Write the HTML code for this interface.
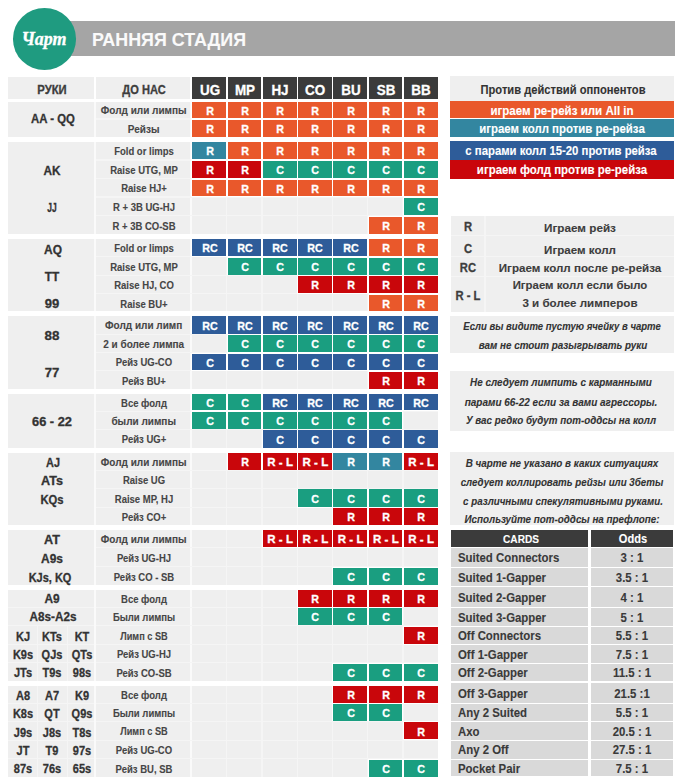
<!DOCTYPE html>
<html><head><meta charset="utf-8"><style>
html,body{margin:0;padding:0;background:#fff;}
body{width:680px;height:782px;position:relative;overflow:hidden;font-family:"Liberation Sans",sans-serif;}
.r{position:absolute;}
.t{position:absolute;height:20px;line-height:20px;font-weight:bold;white-space:nowrap;-webkit-text-stroke:0.3px currentColor;}
.ns{-webkit-text-stroke:0.1px currentColor;}
.circ{position:absolute;left:12.5px;top:8.4px;width:63.6px;height:61.4px;border-radius:50%;background:#1f9b80;}
</style></head><body>
<div class="r" style="left:44.00px;top:21.20px;width:630.60px;height:34.40px;background:#a5a5a5;"></div>
<div class="t ns" style="top:30.30px;font-size:18.5px;color:#fafafa;left:168.60px;transform:translateX(-50%) scaleX(0.966);">РАННЯЯ СТАДИЯ</div>
<div class="circ"></div>
<div class="t" style="left:44px;top:28.5px;height:20px;line-height:20px;font-family:'Liberation Serif',serif;font-style:italic;font-weight:bold;font-size:18px;color:#fff;transform:translateX(-50%)">Чарт</div>
<div class="r" style="left:8.00px;top:76.50px;width:86.00px;height:22.80px;background:#efefef;"></div>
<div class="r" style="left:96.00px;top:76.50px;width:93.50px;height:22.80px;background:#efefef;"></div>
<div class="t " style="top:80.10px;font-size:12px;color:#3d3d3d;left:51.88px;transform:translateX(-50%) scaleX(0.939);">РУКИ</div>
<div class="t " style="top:80.10px;font-size:12px;color:#3d3d3d;left:143.65px;transform:translateX(-50%) scaleX(0.923);">ДО НАС</div>
<div class="r" style="left:192.30px;top:76.50px;width:33.90px;height:22.80px;background:#3b3b3b;"></div>
<div class="t " style="top:80.30px;font-size:14px;color:#fff;left:209.55px;transform:translateX(-50%) scaleX(0.960);">UG</div>
<div class="r" style="left:227.55px;top:76.50px;width:33.90px;height:22.80px;background:#3b3b3b;"></div>
<div class="t " style="top:80.30px;font-size:14px;color:#fff;left:244.80px;transform:translateX(-50%) scaleX(0.960);">MP</div>
<div class="r" style="left:262.80px;top:76.50px;width:33.90px;height:22.80px;background:#3b3b3b;"></div>
<div class="t " style="top:80.30px;font-size:14px;color:#fff;left:280.05px;transform:translateX(-50%) scaleX(0.960);">HJ</div>
<div class="r" style="left:298.05px;top:76.50px;width:33.90px;height:22.80px;background:#3b3b3b;"></div>
<div class="t " style="top:80.30px;font-size:14px;color:#fff;left:315.30px;transform:translateX(-50%) scaleX(0.960);">CO</div>
<div class="r" style="left:333.30px;top:76.50px;width:33.90px;height:22.80px;background:#3b3b3b;"></div>
<div class="t " style="top:80.30px;font-size:14px;color:#fff;left:350.55px;transform:translateX(-50%) scaleX(0.960);">BU</div>
<div class="r" style="left:368.55px;top:76.50px;width:33.90px;height:22.80px;background:#3b3b3b;"></div>
<div class="t " style="top:80.30px;font-size:14px;color:#fff;left:385.80px;transform:translateX(-50%) scaleX(0.960);">SB</div>
<div class="r" style="left:403.80px;top:76.50px;width:33.90px;height:22.80px;background:#3b3b3b;"></div>
<div class="t " style="top:80.30px;font-size:14px;color:#fff;left:421.05px;transform:translateX(-50%) scaleX(0.960);">BB</div>
<div class="r" style="left:8.00px;top:101.50px;width:429.60px;height:35.20px;background:#efefef;"></div>
<div class="r" style="left:94.00px;top:101.50px;width:2.00px;height:35.20px;background:#fafafa;"></div>
<div class="r" style="left:189.60px;top:101.50px;width:2.50px;height:35.20px;background:#fafafa;"></div>
<div class="r" style="left:226.20px;top:101.50px;width:1.30px;height:35.20px;background:#f5f5f5;"></div>
<div class="r" style="left:261.45px;top:101.50px;width:1.30px;height:35.20px;background:#f5f5f5;"></div>
<div class="r" style="left:296.70px;top:101.50px;width:1.30px;height:35.20px;background:#f5f5f5;"></div>
<div class="r" style="left:331.95px;top:101.50px;width:1.30px;height:35.20px;background:#f5f5f5;"></div>
<div class="r" style="left:367.20px;top:101.50px;width:1.30px;height:35.20px;background:#f5f5f5;"></div>
<div class="r" style="left:402.45px;top:101.50px;width:1.30px;height:35.20px;background:#f5f5f5;"></div>
<div class="r" style="left:96.00px;top:118.40px;width:341.60px;height:1.20px;background:#f5f5f5;"></div>
<div class="t ns" style="top:101.15px;font-size:10px;color:#464646;left:143.70px;transform:translateX(-50%) scaleX(1.000);">Фолд или лимпы</div>
<div class="r" style="left:191.40px;top:100.60px;width:35.70px;height:18.30px;background:#fff;"></div>
<div class="r" style="left:226.65px;top:100.60px;width:35.70px;height:18.30px;background:#fff;"></div>
<div class="r" style="left:261.90px;top:100.60px;width:35.70px;height:18.30px;background:#fff;"></div>
<div class="r" style="left:297.15px;top:100.60px;width:35.70px;height:18.30px;background:#fff;"></div>
<div class="r" style="left:332.40px;top:100.60px;width:35.70px;height:18.30px;background:#fff;"></div>
<div class="r" style="left:367.65px;top:100.60px;width:35.70px;height:18.30px;background:#fff;"></div>
<div class="r" style="left:402.90px;top:100.60px;width:35.70px;height:18.30px;background:#fff;"></div>
<div class="t ns" style="top:119.75px;font-size:10px;color:#464646;left:143.70px;transform:translateX(-50%) scaleX(1.000);">Рейзы</div>
<div class="r" style="left:191.40px;top:119.10px;width:35.70px;height:18.50px;background:#fff;"></div>
<div class="r" style="left:226.65px;top:119.10px;width:35.70px;height:18.50px;background:#fff;"></div>
<div class="r" style="left:261.90px;top:119.10px;width:35.70px;height:18.50px;background:#fff;"></div>
<div class="r" style="left:297.15px;top:119.10px;width:35.70px;height:18.50px;background:#fff;"></div>
<div class="r" style="left:332.40px;top:119.10px;width:35.70px;height:18.50px;background:#fff;"></div>
<div class="r" style="left:367.65px;top:119.10px;width:35.70px;height:18.50px;background:#fff;"></div>
<div class="r" style="left:402.90px;top:119.10px;width:35.70px;height:18.50px;background:#fff;"></div>
<div class="r" style="left:192.30px;top:101.50px;width:33.90px;height:16.50px;background:#e9582b;"></div>
<div class="t " style="top:100.65px;font-size:11.5px;color:#fff;left:209.65px;transform:translateX(-50%) scaleX(0.930);">R</div>
<div class="r" style="left:227.55px;top:101.50px;width:33.90px;height:16.50px;background:#e9582b;"></div>
<div class="t " style="top:100.65px;font-size:11.5px;color:#fff;left:244.90px;transform:translateX(-50%) scaleX(0.930);">R</div>
<div class="r" style="left:262.80px;top:101.50px;width:33.90px;height:16.50px;background:#e9582b;"></div>
<div class="t " style="top:100.65px;font-size:11.5px;color:#fff;left:280.15px;transform:translateX(-50%) scaleX(0.930);">R</div>
<div class="r" style="left:298.05px;top:101.50px;width:33.90px;height:16.50px;background:#e9582b;"></div>
<div class="t " style="top:100.65px;font-size:11.5px;color:#fff;left:315.40px;transform:translateX(-50%) scaleX(0.930);">R</div>
<div class="r" style="left:333.30px;top:101.50px;width:33.90px;height:16.50px;background:#e9582b;"></div>
<div class="t " style="top:100.65px;font-size:11.5px;color:#fff;left:350.65px;transform:translateX(-50%) scaleX(0.930);">R</div>
<div class="r" style="left:368.55px;top:101.50px;width:33.90px;height:16.50px;background:#e9582b;"></div>
<div class="t " style="top:100.65px;font-size:11.5px;color:#fff;left:385.90px;transform:translateX(-50%) scaleX(0.930);">R</div>
<div class="r" style="left:403.80px;top:101.50px;width:33.90px;height:16.50px;background:#e9582b;"></div>
<div class="t " style="top:100.65px;font-size:11.5px;color:#fff;left:421.15px;transform:translateX(-50%) scaleX(0.930);">R</div>
<div class="r" style="left:192.30px;top:120.00px;width:33.90px;height:16.70px;background:#e9582b;"></div>
<div class="t " style="top:119.25px;font-size:11.5px;color:#fff;left:209.65px;transform:translateX(-50%) scaleX(0.930);">R</div>
<div class="r" style="left:227.55px;top:120.00px;width:33.90px;height:16.70px;background:#e9582b;"></div>
<div class="t " style="top:119.25px;font-size:11.5px;color:#fff;left:244.90px;transform:translateX(-50%) scaleX(0.930);">R</div>
<div class="r" style="left:262.80px;top:120.00px;width:33.90px;height:16.70px;background:#e9582b;"></div>
<div class="t " style="top:119.25px;font-size:11.5px;color:#fff;left:280.15px;transform:translateX(-50%) scaleX(0.930);">R</div>
<div class="r" style="left:298.05px;top:120.00px;width:33.90px;height:16.70px;background:#e9582b;"></div>
<div class="t " style="top:119.25px;font-size:11.5px;color:#fff;left:315.40px;transform:translateX(-50%) scaleX(0.930);">R</div>
<div class="r" style="left:333.30px;top:120.00px;width:33.90px;height:16.70px;background:#e9582b;"></div>
<div class="t " style="top:119.25px;font-size:11.5px;color:#fff;left:350.65px;transform:translateX(-50%) scaleX(0.930);">R</div>
<div class="r" style="left:368.55px;top:120.00px;width:33.90px;height:16.70px;background:#e9582b;"></div>
<div class="t " style="top:119.25px;font-size:11.5px;color:#fff;left:385.90px;transform:translateX(-50%) scaleX(0.930);">R</div>
<div class="r" style="left:403.80px;top:120.00px;width:33.90px;height:16.70px;background:#e9582b;"></div>
<div class="t " style="top:119.25px;font-size:11.5px;color:#fff;left:421.15px;transform:translateX(-50%) scaleX(0.930);">R</div>
<div class="r" style="left:8.00px;top:141.80px;width:429.60px;height:92.20px;background:#efefef;"></div>
<div class="r" style="left:94.00px;top:141.80px;width:2.00px;height:92.20px;background:#fafafa;"></div>
<div class="r" style="left:189.60px;top:141.80px;width:2.50px;height:92.20px;background:#fafafa;"></div>
<div class="r" style="left:226.20px;top:141.80px;width:1.30px;height:92.20px;background:#f5f5f5;"></div>
<div class="r" style="left:261.45px;top:141.80px;width:1.30px;height:92.20px;background:#f5f5f5;"></div>
<div class="r" style="left:296.70px;top:141.80px;width:1.30px;height:92.20px;background:#f5f5f5;"></div>
<div class="r" style="left:331.95px;top:141.80px;width:1.30px;height:92.20px;background:#f5f5f5;"></div>
<div class="r" style="left:367.20px;top:141.80px;width:1.30px;height:92.20px;background:#f5f5f5;"></div>
<div class="r" style="left:402.45px;top:141.80px;width:1.30px;height:92.20px;background:#f5f5f5;"></div>
<div class="r" style="left:96.00px;top:159.35px;width:341.60px;height:1.20px;background:#f5f5f5;"></div>
<div class="r" style="left:96.00px;top:178.00px;width:341.60px;height:1.20px;background:#f5f5f5;"></div>
<div class="r" style="left:96.00px;top:196.40px;width:341.60px;height:1.20px;background:#f5f5f5;"></div>
<div class="r" style="left:96.00px;top:215.10px;width:341.60px;height:1.20px;background:#f5f5f5;"></div>
<div class="t ns" style="top:141.80px;font-size:10px;color:#464646;left:143.70px;transform:translateX(-50%) scaleX(0.950);">Fold or limps</div>
<div class="r" style="left:191.40px;top:140.90px;width:35.70px;height:19.00px;background:#fff;"></div>
<div class="r" style="left:226.65px;top:140.90px;width:35.70px;height:19.00px;background:#fff;"></div>
<div class="r" style="left:261.90px;top:140.90px;width:35.70px;height:19.00px;background:#fff;"></div>
<div class="r" style="left:297.15px;top:140.90px;width:35.70px;height:19.00px;background:#fff;"></div>
<div class="r" style="left:332.40px;top:140.90px;width:35.70px;height:19.00px;background:#fff;"></div>
<div class="r" style="left:367.65px;top:140.90px;width:35.70px;height:19.00px;background:#fff;"></div>
<div class="r" style="left:402.90px;top:140.90px;width:35.70px;height:19.00px;background:#fff;"></div>
<div class="t ns" style="top:160.65px;font-size:10px;color:#464646;left:143.70px;transform:translateX(-50%) scaleX(0.950);">Raise UTG, MP</div>
<div class="r" style="left:191.40px;top:160.00px;width:35.70px;height:18.50px;background:#fff;"></div>
<div class="r" style="left:226.65px;top:160.00px;width:35.70px;height:18.50px;background:#fff;"></div>
<div class="r" style="left:261.90px;top:160.00px;width:35.70px;height:18.50px;background:#fff;"></div>
<div class="r" style="left:297.15px;top:160.00px;width:35.70px;height:18.50px;background:#fff;"></div>
<div class="r" style="left:332.40px;top:160.00px;width:35.70px;height:18.50px;background:#fff;"></div>
<div class="r" style="left:367.65px;top:160.00px;width:35.70px;height:18.50px;background:#fff;"></div>
<div class="r" style="left:402.90px;top:160.00px;width:35.70px;height:18.50px;background:#fff;"></div>
<div class="t ns" style="top:179.25px;font-size:10px;color:#464646;left:143.70px;transform:translateX(-50%) scaleX(0.950);">Raise HJ+</div>
<div class="r" style="left:191.40px;top:178.70px;width:35.70px;height:18.30px;background:#fff;"></div>
<div class="r" style="left:226.65px;top:178.70px;width:35.70px;height:18.30px;background:#fff;"></div>
<div class="r" style="left:261.90px;top:178.70px;width:35.70px;height:18.30px;background:#fff;"></div>
<div class="r" style="left:297.15px;top:178.70px;width:35.70px;height:18.30px;background:#fff;"></div>
<div class="r" style="left:332.40px;top:178.70px;width:35.70px;height:18.30px;background:#fff;"></div>
<div class="r" style="left:367.65px;top:178.70px;width:35.70px;height:18.30px;background:#fff;"></div>
<div class="r" style="left:402.90px;top:178.70px;width:35.70px;height:18.30px;background:#fff;"></div>
<div class="t ns" style="top:197.80px;font-size:10px;color:#464646;left:143.70px;transform:translateX(-50%) scaleX(0.950);">R + 3B UG-HJ</div>
<div class="r" style="left:402.90px;top:197.00px;width:35.70px;height:18.80px;background:#fff;"></div>
<div class="t ns" style="top:216.65px;font-size:10px;color:#464646;left:143.70px;transform:translateX(-50%) scaleX(0.950);">R + 3B CO-SB</div>
<div class="r" style="left:367.65px;top:215.60px;width:35.70px;height:19.30px;background:#fff;"></div>
<div class="r" style="left:402.90px;top:215.60px;width:35.70px;height:19.30px;background:#fff;"></div>
<div class="r" style="left:192.30px;top:141.80px;width:33.90px;height:17.20px;background:#3386a0;"></div>
<div class="t " style="top:141.30px;font-size:11.5px;color:#fff;left:209.65px;transform:translateX(-50%) scaleX(0.930);">R</div>
<div class="r" style="left:227.55px;top:141.80px;width:33.90px;height:17.20px;background:#e9582b;"></div>
<div class="t " style="top:141.30px;font-size:11.5px;color:#fff;left:244.90px;transform:translateX(-50%) scaleX(0.930);">R</div>
<div class="r" style="left:262.80px;top:141.80px;width:33.90px;height:17.20px;background:#e9582b;"></div>
<div class="t " style="top:141.30px;font-size:11.5px;color:#fff;left:280.15px;transform:translateX(-50%) scaleX(0.930);">R</div>
<div class="r" style="left:298.05px;top:141.80px;width:33.90px;height:17.20px;background:#e9582b;"></div>
<div class="t " style="top:141.30px;font-size:11.5px;color:#fff;left:315.40px;transform:translateX(-50%) scaleX(0.930);">R</div>
<div class="r" style="left:333.30px;top:141.80px;width:33.90px;height:17.20px;background:#e9582b;"></div>
<div class="t " style="top:141.30px;font-size:11.5px;color:#fff;left:350.65px;transform:translateX(-50%) scaleX(0.930);">R</div>
<div class="r" style="left:368.55px;top:141.80px;width:33.90px;height:17.20px;background:#e9582b;"></div>
<div class="t " style="top:141.30px;font-size:11.5px;color:#fff;left:385.90px;transform:translateX(-50%) scaleX(0.930);">R</div>
<div class="r" style="left:403.80px;top:141.80px;width:33.90px;height:17.20px;background:#e9582b;"></div>
<div class="t " style="top:141.30px;font-size:11.5px;color:#fff;left:421.15px;transform:translateX(-50%) scaleX(0.930);">R</div>
<div class="r" style="left:192.30px;top:160.90px;width:33.90px;height:16.70px;background:#c9060b;"></div>
<div class="t " style="top:160.15px;font-size:11.5px;color:#fff;left:209.65px;transform:translateX(-50%) scaleX(0.930);">R</div>
<div class="r" style="left:227.55px;top:160.90px;width:33.90px;height:16.70px;background:#c9060b;"></div>
<div class="t " style="top:160.15px;font-size:11.5px;color:#fff;left:244.90px;transform:translateX(-50%) scaleX(0.930);">R</div>
<div class="r" style="left:262.80px;top:160.90px;width:33.90px;height:16.70px;background:#1a9e80;"></div>
<div class="t " style="top:160.15px;font-size:11.5px;color:#fff;left:280.15px;transform:translateX(-50%) scaleX(0.930);">C</div>
<div class="r" style="left:298.05px;top:160.90px;width:33.90px;height:16.70px;background:#1a9e80;"></div>
<div class="t " style="top:160.15px;font-size:11.5px;color:#fff;left:315.40px;transform:translateX(-50%) scaleX(0.930);">C</div>
<div class="r" style="left:333.30px;top:160.90px;width:33.90px;height:16.70px;background:#1a9e80;"></div>
<div class="t " style="top:160.15px;font-size:11.5px;color:#fff;left:350.65px;transform:translateX(-50%) scaleX(0.930);">C</div>
<div class="r" style="left:368.55px;top:160.90px;width:33.90px;height:16.70px;background:#1a9e80;"></div>
<div class="t " style="top:160.15px;font-size:11.5px;color:#fff;left:385.90px;transform:translateX(-50%) scaleX(0.930);">C</div>
<div class="r" style="left:403.80px;top:160.90px;width:33.90px;height:16.70px;background:#1a9e80;"></div>
<div class="t " style="top:160.15px;font-size:11.5px;color:#fff;left:421.15px;transform:translateX(-50%) scaleX(0.930);">C</div>
<div class="r" style="left:192.30px;top:179.60px;width:33.90px;height:16.50px;background:#e9582b;"></div>
<div class="t " style="top:178.75px;font-size:11.5px;color:#fff;left:209.65px;transform:translateX(-50%) scaleX(0.930);">R</div>
<div class="r" style="left:227.55px;top:179.60px;width:33.90px;height:16.50px;background:#e9582b;"></div>
<div class="t " style="top:178.75px;font-size:11.5px;color:#fff;left:244.90px;transform:translateX(-50%) scaleX(0.930);">R</div>
<div class="r" style="left:262.80px;top:179.60px;width:33.90px;height:16.50px;background:#e9582b;"></div>
<div class="t " style="top:178.75px;font-size:11.5px;color:#fff;left:280.15px;transform:translateX(-50%) scaleX(0.930);">R</div>
<div class="r" style="left:298.05px;top:179.60px;width:33.90px;height:16.50px;background:#e9582b;"></div>
<div class="t " style="top:178.75px;font-size:11.5px;color:#fff;left:315.40px;transform:translateX(-50%) scaleX(0.930);">R</div>
<div class="r" style="left:333.30px;top:179.60px;width:33.90px;height:16.50px;background:#e9582b;"></div>
<div class="t " style="top:178.75px;font-size:11.5px;color:#fff;left:350.65px;transform:translateX(-50%) scaleX(0.930);">R</div>
<div class="r" style="left:368.55px;top:179.60px;width:33.90px;height:16.50px;background:#e9582b;"></div>
<div class="t " style="top:178.75px;font-size:11.5px;color:#fff;left:385.90px;transform:translateX(-50%) scaleX(0.930);">R</div>
<div class="r" style="left:403.80px;top:179.60px;width:33.90px;height:16.50px;background:#e9582b;"></div>
<div class="t " style="top:178.75px;font-size:11.5px;color:#fff;left:421.15px;transform:translateX(-50%) scaleX(0.930);">R</div>
<div class="r" style="left:403.80px;top:197.90px;width:33.90px;height:17.00px;background:#1a9e80;"></div>
<div class="t " style="top:197.30px;font-size:11.5px;color:#fff;left:421.15px;transform:translateX(-50%) scaleX(0.930);">C</div>
<div class="r" style="left:368.55px;top:216.50px;width:33.90px;height:17.50px;background:#e9582b;"></div>
<div class="t " style="top:216.15px;font-size:11.5px;color:#fff;left:385.90px;transform:translateX(-50%) scaleX(0.930);">R</div>
<div class="r" style="left:403.80px;top:216.50px;width:33.90px;height:17.50px;background:#e9582b;"></div>
<div class="t " style="top:216.15px;font-size:11.5px;color:#fff;left:421.15px;transform:translateX(-50%) scaleX(0.930);">R</div>
<div class="r" style="left:8.00px;top:239.00px;width:429.60px;height:72.40px;background:#efefef;"></div>
<div class="r" style="left:94.00px;top:239.00px;width:2.00px;height:72.40px;background:#fafafa;"></div>
<div class="r" style="left:189.60px;top:239.00px;width:2.50px;height:72.40px;background:#fafafa;"></div>
<div class="r" style="left:226.20px;top:239.00px;width:1.30px;height:72.40px;background:#f5f5f5;"></div>
<div class="r" style="left:261.45px;top:239.00px;width:1.30px;height:72.40px;background:#f5f5f5;"></div>
<div class="r" style="left:296.70px;top:239.00px;width:1.30px;height:72.40px;background:#f5f5f5;"></div>
<div class="r" style="left:331.95px;top:239.00px;width:1.30px;height:72.40px;background:#f5f5f5;"></div>
<div class="r" style="left:367.20px;top:239.00px;width:1.30px;height:72.40px;background:#f5f5f5;"></div>
<div class="r" style="left:402.45px;top:239.00px;width:1.30px;height:72.40px;background:#f5f5f5;"></div>
<div class="r" style="left:96.00px;top:256.20px;width:341.60px;height:1.20px;background:#f5f5f5;"></div>
<div class="r" style="left:96.00px;top:274.75px;width:341.60px;height:1.20px;background:#f5f5f5;"></div>
<div class="r" style="left:96.00px;top:293.25px;width:341.60px;height:1.20px;background:#f5f5f5;"></div>
<div class="t ns" style="top:238.90px;font-size:10px;color:#464646;left:143.70px;transform:translateX(-50%) scaleX(0.950);">Fold or limps</div>
<div class="r" style="left:191.40px;top:238.10px;width:35.70px;height:18.80px;background:#fff;"></div>
<div class="r" style="left:226.65px;top:238.10px;width:35.70px;height:18.80px;background:#fff;"></div>
<div class="r" style="left:261.90px;top:238.10px;width:35.70px;height:18.80px;background:#fff;"></div>
<div class="r" style="left:297.15px;top:238.10px;width:35.70px;height:18.80px;background:#fff;"></div>
<div class="r" style="left:332.40px;top:238.10px;width:35.70px;height:18.80px;background:#fff;"></div>
<div class="r" style="left:367.65px;top:238.10px;width:35.70px;height:18.80px;background:#fff;"></div>
<div class="r" style="left:402.90px;top:238.10px;width:35.70px;height:18.80px;background:#fff;"></div>
<div class="t ns" style="top:257.50px;font-size:10px;color:#464646;left:143.70px;transform:translateX(-50%) scaleX(0.950);">Raise UTG, MP</div>
<div class="r" style="left:226.65px;top:256.70px;width:35.70px;height:18.80px;background:#fff;"></div>
<div class="r" style="left:261.90px;top:256.70px;width:35.70px;height:18.80px;background:#fff;"></div>
<div class="r" style="left:297.15px;top:256.70px;width:35.70px;height:18.80px;background:#fff;"></div>
<div class="r" style="left:332.40px;top:256.70px;width:35.70px;height:18.80px;background:#fff;"></div>
<div class="r" style="left:367.65px;top:256.70px;width:35.70px;height:18.80px;background:#fff;"></div>
<div class="r" style="left:402.90px;top:256.70px;width:35.70px;height:18.80px;background:#fff;"></div>
<div class="t ns" style="top:275.85px;font-size:10px;color:#464646;left:143.70px;transform:translateX(-50%) scaleX(0.950);">Raise HJ, CO</div>
<div class="r" style="left:297.15px;top:275.20px;width:35.70px;height:18.50px;background:#fff;"></div>
<div class="r" style="left:332.40px;top:275.20px;width:35.70px;height:18.50px;background:#fff;"></div>
<div class="r" style="left:367.65px;top:275.20px;width:35.70px;height:18.50px;background:#fff;"></div>
<div class="r" style="left:402.90px;top:275.20px;width:35.70px;height:18.50px;background:#fff;"></div>
<div class="t ns" style="top:294.55px;font-size:10px;color:#464646;left:143.70px;transform:translateX(-50%) scaleX(0.950);">Raise BU+</div>
<div class="r" style="left:367.65px;top:294.00px;width:35.70px;height:18.30px;background:#fff;"></div>
<div class="r" style="left:402.90px;top:294.00px;width:35.70px;height:18.30px;background:#fff;"></div>
<div class="r" style="left:192.30px;top:239.00px;width:33.90px;height:17.00px;background:#2e5c99;"></div>
<div class="t " style="top:238.40px;font-size:11.5px;color:#fff;left:209.65px;transform:translateX(-50%) scaleX(0.930);">RC</div>
<div class="r" style="left:227.55px;top:239.00px;width:33.90px;height:17.00px;background:#2e5c99;"></div>
<div class="t " style="top:238.40px;font-size:11.5px;color:#fff;left:244.90px;transform:translateX(-50%) scaleX(0.930);">RC</div>
<div class="r" style="left:262.80px;top:239.00px;width:33.90px;height:17.00px;background:#2e5c99;"></div>
<div class="t " style="top:238.40px;font-size:11.5px;color:#fff;left:280.15px;transform:translateX(-50%) scaleX(0.930);">RC</div>
<div class="r" style="left:298.05px;top:239.00px;width:33.90px;height:17.00px;background:#2e5c99;"></div>
<div class="t " style="top:238.40px;font-size:11.5px;color:#fff;left:315.40px;transform:translateX(-50%) scaleX(0.930);">RC</div>
<div class="r" style="left:333.30px;top:239.00px;width:33.90px;height:17.00px;background:#2e5c99;"></div>
<div class="t " style="top:238.40px;font-size:11.5px;color:#fff;left:350.65px;transform:translateX(-50%) scaleX(0.930);">RC</div>
<div class="r" style="left:368.55px;top:239.00px;width:33.90px;height:17.00px;background:#e9582b;"></div>
<div class="t " style="top:238.40px;font-size:11.5px;color:#fff;left:385.90px;transform:translateX(-50%) scaleX(0.930);">R</div>
<div class="r" style="left:403.80px;top:239.00px;width:33.90px;height:17.00px;background:#e9582b;"></div>
<div class="t " style="top:238.40px;font-size:11.5px;color:#fff;left:421.15px;transform:translateX(-50%) scaleX(0.930);">R</div>
<div class="r" style="left:227.55px;top:257.60px;width:33.90px;height:17.00px;background:#1a9e80;"></div>
<div class="t " style="top:257.00px;font-size:11.5px;color:#fff;left:244.90px;transform:translateX(-50%) scaleX(0.930);">C</div>
<div class="r" style="left:262.80px;top:257.60px;width:33.90px;height:17.00px;background:#1a9e80;"></div>
<div class="t " style="top:257.00px;font-size:11.5px;color:#fff;left:280.15px;transform:translateX(-50%) scaleX(0.930);">C</div>
<div class="r" style="left:298.05px;top:257.60px;width:33.90px;height:17.00px;background:#1a9e80;"></div>
<div class="t " style="top:257.00px;font-size:11.5px;color:#fff;left:315.40px;transform:translateX(-50%) scaleX(0.930);">C</div>
<div class="r" style="left:333.30px;top:257.60px;width:33.90px;height:17.00px;background:#1a9e80;"></div>
<div class="t " style="top:257.00px;font-size:11.5px;color:#fff;left:350.65px;transform:translateX(-50%) scaleX(0.930);">C</div>
<div class="r" style="left:368.55px;top:257.60px;width:33.90px;height:17.00px;background:#1a9e80;"></div>
<div class="t " style="top:257.00px;font-size:11.5px;color:#fff;left:385.90px;transform:translateX(-50%) scaleX(0.930);">C</div>
<div class="r" style="left:403.80px;top:257.60px;width:33.90px;height:17.00px;background:#1a9e80;"></div>
<div class="t " style="top:257.00px;font-size:11.5px;color:#fff;left:421.15px;transform:translateX(-50%) scaleX(0.930);">C</div>
<div class="r" style="left:298.05px;top:276.10px;width:33.90px;height:16.70px;background:#c9060b;"></div>
<div class="t " style="top:275.35px;font-size:11.5px;color:#fff;left:315.40px;transform:translateX(-50%) scaleX(0.930);">R</div>
<div class="r" style="left:333.30px;top:276.10px;width:33.90px;height:16.70px;background:#c9060b;"></div>
<div class="t " style="top:275.35px;font-size:11.5px;color:#fff;left:350.65px;transform:translateX(-50%) scaleX(0.930);">R</div>
<div class="r" style="left:368.55px;top:276.10px;width:33.90px;height:16.70px;background:#c9060b;"></div>
<div class="t " style="top:275.35px;font-size:11.5px;color:#fff;left:385.90px;transform:translateX(-50%) scaleX(0.930);">R</div>
<div class="r" style="left:403.80px;top:276.10px;width:33.90px;height:16.70px;background:#c9060b;"></div>
<div class="t " style="top:275.35px;font-size:11.5px;color:#fff;left:421.15px;transform:translateX(-50%) scaleX(0.930);">R</div>
<div class="r" style="left:368.55px;top:294.90px;width:33.90px;height:16.50px;background:#e9582b;"></div>
<div class="t " style="top:294.05px;font-size:11.5px;color:#fff;left:385.90px;transform:translateX(-50%) scaleX(0.930);">R</div>
<div class="r" style="left:403.80px;top:294.90px;width:33.90px;height:16.50px;background:#e9582b;"></div>
<div class="t " style="top:294.05px;font-size:11.5px;color:#fff;left:421.15px;transform:translateX(-50%) scaleX(0.930);">R</div>
<div class="r" style="left:8.00px;top:316.25px;width:429.60px;height:72.55px;background:#efefef;"></div>
<div class="r" style="left:94.00px;top:316.25px;width:2.00px;height:72.55px;background:#fafafa;"></div>
<div class="r" style="left:189.60px;top:316.25px;width:2.50px;height:72.55px;background:#fafafa;"></div>
<div class="r" style="left:226.20px;top:316.25px;width:1.30px;height:72.55px;background:#f5f5f5;"></div>
<div class="r" style="left:261.45px;top:316.25px;width:1.30px;height:72.55px;background:#f5f5f5;"></div>
<div class="r" style="left:296.70px;top:316.25px;width:1.30px;height:72.55px;background:#f5f5f5;"></div>
<div class="r" style="left:331.95px;top:316.25px;width:1.30px;height:72.55px;background:#f5f5f5;"></div>
<div class="r" style="left:367.20px;top:316.25px;width:1.30px;height:72.55px;background:#f5f5f5;"></div>
<div class="r" style="left:402.45px;top:316.25px;width:1.30px;height:72.55px;background:#f5f5f5;"></div>
<div class="r" style="left:96.00px;top:333.65px;width:341.60px;height:1.20px;background:#f5f5f5;"></div>
<div class="r" style="left:96.00px;top:352.15px;width:341.60px;height:1.20px;background:#f5f5f5;"></div>
<div class="r" style="left:96.00px;top:370.30px;width:341.60px;height:1.20px;background:#f5f5f5;"></div>
<div class="t ns" style="top:316.27px;font-size:10px;color:#464646;left:143.70px;transform:translateX(-50%) scaleX(1.000);">Фолд или лимп</div>
<div class="r" style="left:191.40px;top:315.35px;width:35.70px;height:19.05px;background:#fff;"></div>
<div class="r" style="left:226.65px;top:315.35px;width:35.70px;height:19.05px;background:#fff;"></div>
<div class="r" style="left:261.90px;top:315.35px;width:35.70px;height:19.05px;background:#fff;"></div>
<div class="r" style="left:297.15px;top:315.35px;width:35.70px;height:19.05px;background:#fff;"></div>
<div class="r" style="left:332.40px;top:315.35px;width:35.70px;height:19.05px;background:#fff;"></div>
<div class="r" style="left:367.65px;top:315.35px;width:35.70px;height:19.05px;background:#fff;"></div>
<div class="r" style="left:402.90px;top:315.35px;width:35.70px;height:19.05px;background:#fff;"></div>
<div class="t ns" style="top:334.90px;font-size:10px;color:#464646;left:143.70px;transform:translateX(-50%) scaleX(1.000);">2 и более лимпа</div>
<div class="r" style="left:226.65px;top:334.10px;width:35.70px;height:18.80px;background:#fff;"></div>
<div class="r" style="left:261.90px;top:334.10px;width:35.70px;height:18.80px;background:#fff;"></div>
<div class="r" style="left:297.15px;top:334.10px;width:35.70px;height:18.80px;background:#fff;"></div>
<div class="r" style="left:332.40px;top:334.10px;width:35.70px;height:18.80px;background:#fff;"></div>
<div class="r" style="left:367.65px;top:334.10px;width:35.70px;height:18.80px;background:#fff;"></div>
<div class="r" style="left:402.90px;top:334.10px;width:35.70px;height:18.80px;background:#fff;"></div>
<div class="t ns" style="top:353.15px;font-size:10px;color:#464646;left:143.70px;transform:translateX(-50%) scaleX(0.950);">Рейз UG-CO</div>
<div class="r" style="left:191.40px;top:352.60px;width:35.70px;height:18.30px;background:#fff;"></div>
<div class="r" style="left:226.65px;top:352.60px;width:35.70px;height:18.30px;background:#fff;"></div>
<div class="r" style="left:261.90px;top:352.60px;width:35.70px;height:18.30px;background:#fff;"></div>
<div class="r" style="left:297.15px;top:352.60px;width:35.70px;height:18.30px;background:#fff;"></div>
<div class="r" style="left:332.40px;top:352.60px;width:35.70px;height:18.30px;background:#fff;"></div>
<div class="r" style="left:367.65px;top:352.60px;width:35.70px;height:18.30px;background:#fff;"></div>
<div class="r" style="left:402.90px;top:352.60px;width:35.70px;height:18.30px;background:#fff;"></div>
<div class="t ns" style="top:371.70px;font-size:10px;color:#464646;left:143.70px;transform:translateX(-50%) scaleX(0.950);">Рейз BU+</div>
<div class="r" style="left:367.65px;top:370.90px;width:35.70px;height:18.80px;background:#fff;"></div>
<div class="r" style="left:402.90px;top:370.90px;width:35.70px;height:18.80px;background:#fff;"></div>
<div class="r" style="left:192.30px;top:316.25px;width:33.90px;height:17.25px;background:#2e5c99;"></div>
<div class="t " style="top:315.77px;font-size:11.5px;color:#fff;left:209.65px;transform:translateX(-50%) scaleX(0.930);">RC</div>
<div class="r" style="left:227.55px;top:316.25px;width:33.90px;height:17.25px;background:#2e5c99;"></div>
<div class="t " style="top:315.77px;font-size:11.5px;color:#fff;left:244.90px;transform:translateX(-50%) scaleX(0.930);">RC</div>
<div class="r" style="left:262.80px;top:316.25px;width:33.90px;height:17.25px;background:#2e5c99;"></div>
<div class="t " style="top:315.77px;font-size:11.5px;color:#fff;left:280.15px;transform:translateX(-50%) scaleX(0.930);">RC</div>
<div class="r" style="left:298.05px;top:316.25px;width:33.90px;height:17.25px;background:#2e5c99;"></div>
<div class="t " style="top:315.77px;font-size:11.5px;color:#fff;left:315.40px;transform:translateX(-50%) scaleX(0.930);">RC</div>
<div class="r" style="left:333.30px;top:316.25px;width:33.90px;height:17.25px;background:#2e5c99;"></div>
<div class="t " style="top:315.77px;font-size:11.5px;color:#fff;left:350.65px;transform:translateX(-50%) scaleX(0.930);">RC</div>
<div class="r" style="left:368.55px;top:316.25px;width:33.90px;height:17.25px;background:#2e5c99;"></div>
<div class="t " style="top:315.77px;font-size:11.5px;color:#fff;left:385.90px;transform:translateX(-50%) scaleX(0.930);">RC</div>
<div class="r" style="left:403.80px;top:316.25px;width:33.90px;height:17.25px;background:#2e5c99;"></div>
<div class="t " style="top:315.77px;font-size:11.5px;color:#fff;left:421.15px;transform:translateX(-50%) scaleX(0.930);">RC</div>
<div class="r" style="left:227.55px;top:335.00px;width:33.90px;height:17.00px;background:#1a9e80;"></div>
<div class="t " style="top:334.40px;font-size:11.5px;color:#fff;left:244.90px;transform:translateX(-50%) scaleX(0.930);">C</div>
<div class="r" style="left:262.80px;top:335.00px;width:33.90px;height:17.00px;background:#1a9e80;"></div>
<div class="t " style="top:334.40px;font-size:11.5px;color:#fff;left:280.15px;transform:translateX(-50%) scaleX(0.930);">C</div>
<div class="r" style="left:298.05px;top:335.00px;width:33.90px;height:17.00px;background:#1a9e80;"></div>
<div class="t " style="top:334.40px;font-size:11.5px;color:#fff;left:315.40px;transform:translateX(-50%) scaleX(0.930);">C</div>
<div class="r" style="left:333.30px;top:335.00px;width:33.90px;height:17.00px;background:#1a9e80;"></div>
<div class="t " style="top:334.40px;font-size:11.5px;color:#fff;left:350.65px;transform:translateX(-50%) scaleX(0.930);">C</div>
<div class="r" style="left:368.55px;top:335.00px;width:33.90px;height:17.00px;background:#1a9e80;"></div>
<div class="t " style="top:334.40px;font-size:11.5px;color:#fff;left:385.90px;transform:translateX(-50%) scaleX(0.930);">C</div>
<div class="r" style="left:403.80px;top:335.00px;width:33.90px;height:17.00px;background:#1a9e80;"></div>
<div class="t " style="top:334.40px;font-size:11.5px;color:#fff;left:421.15px;transform:translateX(-50%) scaleX(0.930);">C</div>
<div class="r" style="left:192.30px;top:353.50px;width:33.90px;height:16.50px;background:#2e5c99;"></div>
<div class="t " style="top:352.65px;font-size:11.5px;color:#fff;left:209.65px;transform:translateX(-50%) scaleX(0.930);">C</div>
<div class="r" style="left:227.55px;top:353.50px;width:33.90px;height:16.50px;background:#2e5c99;"></div>
<div class="t " style="top:352.65px;font-size:11.5px;color:#fff;left:244.90px;transform:translateX(-50%) scaleX(0.930);">C</div>
<div class="r" style="left:262.80px;top:353.50px;width:33.90px;height:16.50px;background:#2e5c99;"></div>
<div class="t " style="top:352.65px;font-size:11.5px;color:#fff;left:280.15px;transform:translateX(-50%) scaleX(0.930);">C</div>
<div class="r" style="left:298.05px;top:353.50px;width:33.90px;height:16.50px;background:#2e5c99;"></div>
<div class="t " style="top:352.65px;font-size:11.5px;color:#fff;left:315.40px;transform:translateX(-50%) scaleX(0.930);">C</div>
<div class="r" style="left:333.30px;top:353.50px;width:33.90px;height:16.50px;background:#2e5c99;"></div>
<div class="t " style="top:352.65px;font-size:11.5px;color:#fff;left:350.65px;transform:translateX(-50%) scaleX(0.930);">C</div>
<div class="r" style="left:368.55px;top:353.50px;width:33.90px;height:16.50px;background:#2e5c99;"></div>
<div class="t " style="top:352.65px;font-size:11.5px;color:#fff;left:385.90px;transform:translateX(-50%) scaleX(0.930);">C</div>
<div class="r" style="left:403.80px;top:353.50px;width:33.90px;height:16.50px;background:#2e5c99;"></div>
<div class="t " style="top:352.65px;font-size:11.5px;color:#fff;left:421.15px;transform:translateX(-50%) scaleX(0.930);">C</div>
<div class="r" style="left:368.55px;top:371.80px;width:33.90px;height:17.00px;background:#c9060b;"></div>
<div class="t " style="top:371.20px;font-size:11.5px;color:#fff;left:385.90px;transform:translateX(-50%) scaleX(0.930);">R</div>
<div class="r" style="left:403.80px;top:371.80px;width:33.90px;height:17.00px;background:#c9060b;"></div>
<div class="t " style="top:371.20px;font-size:11.5px;color:#fff;left:421.15px;transform:translateX(-50%) scaleX(0.930);">R</div>
<div class="r" style="left:8.00px;top:393.80px;width:429.60px;height:53.80px;background:#efefef;"></div>
<div class="r" style="left:94.00px;top:393.80px;width:2.00px;height:53.80px;background:#fafafa;"></div>
<div class="r" style="left:189.60px;top:393.80px;width:2.50px;height:53.80px;background:#fafafa;"></div>
<div class="r" style="left:226.20px;top:393.80px;width:1.30px;height:53.80px;background:#f5f5f5;"></div>
<div class="r" style="left:261.45px;top:393.80px;width:1.30px;height:53.80px;background:#f5f5f5;"></div>
<div class="r" style="left:296.70px;top:393.80px;width:1.30px;height:53.80px;background:#f5f5f5;"></div>
<div class="r" style="left:331.95px;top:393.80px;width:1.30px;height:53.80px;background:#f5f5f5;"></div>
<div class="r" style="left:367.20px;top:393.80px;width:1.30px;height:53.80px;background:#f5f5f5;"></div>
<div class="r" style="left:402.45px;top:393.80px;width:1.30px;height:53.80px;background:#f5f5f5;"></div>
<div class="r" style="left:96.00px;top:410.50px;width:341.60px;height:1.20px;background:#f5f5f5;"></div>
<div class="r" style="left:96.00px;top:428.90px;width:341.60px;height:1.20px;background:#f5f5f5;"></div>
<div class="t ns" style="top:393.50px;font-size:10px;color:#464646;left:143.70px;transform:translateX(-50%) scaleX(0.950);">Все фолд</div>
<div class="r" style="left:191.40px;top:392.90px;width:35.70px;height:18.40px;background:#fff;"></div>
<div class="r" style="left:226.65px;top:392.90px;width:35.70px;height:18.40px;background:#fff;"></div>
<div class="r" style="left:261.90px;top:392.90px;width:35.70px;height:18.40px;background:#fff;"></div>
<div class="r" style="left:297.15px;top:392.90px;width:35.70px;height:18.40px;background:#fff;"></div>
<div class="r" style="left:332.40px;top:392.90px;width:35.70px;height:18.40px;background:#fff;"></div>
<div class="r" style="left:367.65px;top:392.90px;width:35.70px;height:18.40px;background:#fff;"></div>
<div class="r" style="left:402.90px;top:392.90px;width:35.70px;height:18.40px;background:#fff;"></div>
<div class="t ns" style="top:411.60px;font-size:10px;color:#464646;left:143.70px;transform:translateX(-50%) scaleX(1.000);">были лимпы</div>
<div class="r" style="left:191.40px;top:410.90px;width:35.70px;height:18.60px;background:#fff;"></div>
<div class="r" style="left:226.65px;top:410.90px;width:35.70px;height:18.60px;background:#fff;"></div>
<div class="r" style="left:261.90px;top:410.90px;width:35.70px;height:18.60px;background:#fff;"></div>
<div class="r" style="left:297.15px;top:410.90px;width:35.70px;height:18.60px;background:#fff;"></div>
<div class="r" style="left:332.40px;top:410.90px;width:35.70px;height:18.60px;background:#fff;"></div>
<div class="r" style="left:367.65px;top:410.90px;width:35.70px;height:18.60px;background:#fff;"></div>
<div class="t ns" style="top:430.40px;font-size:10px;color:#464646;left:143.70px;transform:translateX(-50%) scaleX(0.950);">Рейз UG+</div>
<div class="r" style="left:261.90px;top:429.50px;width:35.70px;height:19.00px;background:#fff;"></div>
<div class="r" style="left:297.15px;top:429.50px;width:35.70px;height:19.00px;background:#fff;"></div>
<div class="r" style="left:332.40px;top:429.50px;width:35.70px;height:19.00px;background:#fff;"></div>
<div class="r" style="left:367.65px;top:429.50px;width:35.70px;height:19.00px;background:#fff;"></div>
<div class="r" style="left:402.90px;top:429.50px;width:35.70px;height:19.00px;background:#fff;"></div>
<div class="r" style="left:192.30px;top:393.80px;width:33.90px;height:16.60px;background:#1a9e80;"></div>
<div class="t " style="top:393.00px;font-size:11.5px;color:#fff;left:209.65px;transform:translateX(-50%) scaleX(0.930);">C</div>
<div class="r" style="left:227.55px;top:393.80px;width:33.90px;height:16.60px;background:#1a9e80;"></div>
<div class="t " style="top:393.00px;font-size:11.5px;color:#fff;left:244.90px;transform:translateX(-50%) scaleX(0.930);">C</div>
<div class="r" style="left:262.80px;top:393.80px;width:33.90px;height:16.60px;background:#2e5c99;"></div>
<div class="t " style="top:393.00px;font-size:11.5px;color:#fff;left:280.15px;transform:translateX(-50%) scaleX(0.930);">RC</div>
<div class="r" style="left:298.05px;top:393.80px;width:33.90px;height:16.60px;background:#2e5c99;"></div>
<div class="t " style="top:393.00px;font-size:11.5px;color:#fff;left:315.40px;transform:translateX(-50%) scaleX(0.930);">RC</div>
<div class="r" style="left:333.30px;top:393.80px;width:33.90px;height:16.60px;background:#2e5c99;"></div>
<div class="t " style="top:393.00px;font-size:11.5px;color:#fff;left:350.65px;transform:translateX(-50%) scaleX(0.930);">RC</div>
<div class="r" style="left:368.55px;top:393.80px;width:33.90px;height:16.60px;background:#2e5c99;"></div>
<div class="t " style="top:393.00px;font-size:11.5px;color:#fff;left:385.90px;transform:translateX(-50%) scaleX(0.930);">RC</div>
<div class="r" style="left:403.80px;top:393.80px;width:33.90px;height:16.60px;background:#2e5c99;"></div>
<div class="t " style="top:393.00px;font-size:11.5px;color:#fff;left:421.15px;transform:translateX(-50%) scaleX(0.930);">RC</div>
<div class="r" style="left:192.30px;top:411.80px;width:33.90px;height:16.80px;background:#1a9e80;"></div>
<div class="t " style="top:411.10px;font-size:11.5px;color:#fff;left:209.65px;transform:translateX(-50%) scaleX(0.930);">C</div>
<div class="r" style="left:227.55px;top:411.80px;width:33.90px;height:16.80px;background:#1a9e80;"></div>
<div class="t " style="top:411.10px;font-size:11.5px;color:#fff;left:244.90px;transform:translateX(-50%) scaleX(0.930);">C</div>
<div class="r" style="left:262.80px;top:411.80px;width:33.90px;height:16.80px;background:#1a9e80;"></div>
<div class="t " style="top:411.10px;font-size:11.5px;color:#fff;left:280.15px;transform:translateX(-50%) scaleX(0.930);">C</div>
<div class="r" style="left:298.05px;top:411.80px;width:33.90px;height:16.80px;background:#1a9e80;"></div>
<div class="t " style="top:411.10px;font-size:11.5px;color:#fff;left:315.40px;transform:translateX(-50%) scaleX(0.930);">C</div>
<div class="r" style="left:333.30px;top:411.80px;width:33.90px;height:16.80px;background:#1a9e80;"></div>
<div class="t " style="top:411.10px;font-size:11.5px;color:#fff;left:350.65px;transform:translateX(-50%) scaleX(0.930);">C</div>
<div class="r" style="left:368.55px;top:411.80px;width:33.90px;height:16.80px;background:#1a9e80;"></div>
<div class="t " style="top:411.10px;font-size:11.5px;color:#fff;left:385.90px;transform:translateX(-50%) scaleX(0.930);">C</div>
<div class="r" style="left:262.80px;top:430.40px;width:33.90px;height:17.20px;background:#2e5c99;"></div>
<div class="t " style="top:429.90px;font-size:11.5px;color:#fff;left:280.15px;transform:translateX(-50%) scaleX(0.930);">C</div>
<div class="r" style="left:298.05px;top:430.40px;width:33.90px;height:17.20px;background:#2e5c99;"></div>
<div class="t " style="top:429.90px;font-size:11.5px;color:#fff;left:315.40px;transform:translateX(-50%) scaleX(0.930);">C</div>
<div class="r" style="left:333.30px;top:430.40px;width:33.90px;height:17.20px;background:#2e5c99;"></div>
<div class="t " style="top:429.90px;font-size:11.5px;color:#fff;left:350.65px;transform:translateX(-50%) scaleX(0.930);">C</div>
<div class="r" style="left:368.55px;top:430.40px;width:33.90px;height:17.20px;background:#2e5c99;"></div>
<div class="t " style="top:429.90px;font-size:11.5px;color:#fff;left:385.90px;transform:translateX(-50%) scaleX(0.930);">C</div>
<div class="r" style="left:403.80px;top:430.40px;width:33.90px;height:17.20px;background:#2e5c99;"></div>
<div class="t " style="top:429.90px;font-size:11.5px;color:#fff;left:421.15px;transform:translateX(-50%) scaleX(0.930);">C</div>
<div class="r" style="left:8.00px;top:452.70px;width:429.60px;height:71.90px;background:#efefef;"></div>
<div class="r" style="left:94.00px;top:452.70px;width:2.00px;height:71.90px;background:#fafafa;"></div>
<div class="r" style="left:189.60px;top:452.70px;width:2.50px;height:71.90px;background:#fafafa;"></div>
<div class="r" style="left:226.20px;top:452.70px;width:1.30px;height:71.90px;background:#f5f5f5;"></div>
<div class="r" style="left:261.45px;top:452.70px;width:1.30px;height:71.90px;background:#f5f5f5;"></div>
<div class="r" style="left:296.70px;top:452.70px;width:1.30px;height:71.90px;background:#f5f5f5;"></div>
<div class="r" style="left:331.95px;top:452.70px;width:1.30px;height:71.90px;background:#f5f5f5;"></div>
<div class="r" style="left:367.20px;top:452.70px;width:1.30px;height:71.90px;background:#f5f5f5;"></div>
<div class="r" style="left:402.45px;top:452.70px;width:1.30px;height:71.90px;background:#f5f5f5;"></div>
<div class="r" style="left:96.00px;top:469.80px;width:341.60px;height:1.20px;background:#f5f5f5;"></div>
<div class="r" style="left:96.00px;top:488.00px;width:341.60px;height:1.20px;background:#f5f5f5;"></div>
<div class="r" style="left:96.00px;top:506.85px;width:341.60px;height:1.20px;background:#f5f5f5;"></div>
<div class="t ns" style="top:452.55px;font-size:10px;color:#464646;left:143.70px;transform:translateX(-50%) scaleX(1.000);">Фолд или лимпы</div>
<div class="r" style="left:226.65px;top:451.80px;width:35.70px;height:18.70px;background:#fff;"></div>
<div class="r" style="left:261.90px;top:451.80px;width:35.70px;height:18.70px;background:#fff;"></div>
<div class="r" style="left:297.15px;top:451.80px;width:35.70px;height:18.70px;background:#fff;"></div>
<div class="r" style="left:332.40px;top:451.80px;width:35.70px;height:18.70px;background:#fff;"></div>
<div class="r" style="left:367.65px;top:451.80px;width:35.70px;height:18.70px;background:#fff;"></div>
<div class="r" style="left:402.90px;top:451.80px;width:35.70px;height:18.70px;background:#fff;"></div>
<div class="t ns" style="top:470.90px;font-size:10px;color:#464646;left:143.70px;transform:translateX(-50%) scaleX(0.950);">Raise UG</div>
<div class="t ns" style="top:489.50px;font-size:10px;color:#464646;left:143.70px;transform:translateX(-50%) scaleX(0.950);">Raise MP, HJ</div>
<div class="r" style="left:297.15px;top:488.50px;width:35.70px;height:19.20px;background:#fff;"></div>
<div class="r" style="left:332.40px;top:488.50px;width:35.70px;height:19.20px;background:#fff;"></div>
<div class="r" style="left:367.65px;top:488.50px;width:35.70px;height:19.20px;background:#fff;"></div>
<div class="r" style="left:402.90px;top:488.50px;width:35.70px;height:19.20px;background:#fff;"></div>
<div class="t ns" style="top:507.75px;font-size:10px;color:#464646;left:143.70px;transform:translateX(-50%) scaleX(0.950);">Рейз CO+</div>
<div class="r" style="left:332.40px;top:507.20px;width:35.70px;height:18.30px;background:#fff;"></div>
<div class="r" style="left:367.65px;top:507.20px;width:35.70px;height:18.30px;background:#fff;"></div>
<div class="r" style="left:402.90px;top:507.20px;width:35.70px;height:18.30px;background:#fff;"></div>
<div class="r" style="left:227.55px;top:452.70px;width:33.90px;height:16.90px;background:#c9060b;"></div>
<div class="t " style="top:452.05px;font-size:11.5px;color:#fff;left:244.90px;transform:translateX(-50%) scaleX(0.930);">R</div>
<div class="r" style="left:262.80px;top:452.70px;width:33.90px;height:16.90px;background:#c9060b;"></div>
<div class="t " style="top:452.05px;font-size:11.5px;color:#fff;left:280.15px;transform:translateX(-50%) scaleX(1.000);">R - L</div>
<div class="r" style="left:298.05px;top:452.70px;width:33.90px;height:16.90px;background:#c9060b;"></div>
<div class="t " style="top:452.05px;font-size:11.5px;color:#fff;left:315.40px;transform:translateX(-50%) scaleX(1.000);">R - L</div>
<div class="r" style="left:333.30px;top:452.70px;width:33.90px;height:16.90px;background:#3386a0;"></div>
<div class="t " style="top:452.05px;font-size:11.5px;color:#fff;left:350.65px;transform:translateX(-50%) scaleX(0.930);">R</div>
<div class="r" style="left:368.55px;top:452.70px;width:33.90px;height:16.90px;background:#3386a0;"></div>
<div class="t " style="top:452.05px;font-size:11.5px;color:#fff;left:385.90px;transform:translateX(-50%) scaleX(0.930);">R</div>
<div class="r" style="left:403.80px;top:452.70px;width:33.90px;height:16.90px;background:#c9060b;"></div>
<div class="t " style="top:452.05px;font-size:11.5px;color:#fff;left:421.15px;transform:translateX(-50%) scaleX(1.000);">R - L</div>
<div class="r" style="left:298.05px;top:489.40px;width:33.90px;height:17.40px;background:#1a9e80;"></div>
<div class="t " style="top:489.00px;font-size:11.5px;color:#fff;left:315.40px;transform:translateX(-50%) scaleX(0.930);">C</div>
<div class="r" style="left:333.30px;top:489.40px;width:33.90px;height:17.40px;background:#1a9e80;"></div>
<div class="t " style="top:489.00px;font-size:11.5px;color:#fff;left:350.65px;transform:translateX(-50%) scaleX(0.930);">C</div>
<div class="r" style="left:368.55px;top:489.40px;width:33.90px;height:17.40px;background:#1a9e80;"></div>
<div class="t " style="top:489.00px;font-size:11.5px;color:#fff;left:385.90px;transform:translateX(-50%) scaleX(0.930);">C</div>
<div class="r" style="left:403.80px;top:489.40px;width:33.90px;height:17.40px;background:#1a9e80;"></div>
<div class="t " style="top:489.00px;font-size:11.5px;color:#fff;left:421.15px;transform:translateX(-50%) scaleX(0.930);">C</div>
<div class="r" style="left:333.30px;top:508.10px;width:33.90px;height:16.50px;background:#c9060b;"></div>
<div class="t " style="top:507.25px;font-size:11.5px;color:#fff;left:350.65px;transform:translateX(-50%) scaleX(0.930);">R</div>
<div class="r" style="left:368.55px;top:508.10px;width:33.90px;height:16.50px;background:#c9060b;"></div>
<div class="t " style="top:507.25px;font-size:11.5px;color:#fff;left:385.90px;transform:translateX(-50%) scaleX(0.930);">R</div>
<div class="r" style="left:403.80px;top:508.10px;width:33.90px;height:16.50px;background:#c9060b;"></div>
<div class="t " style="top:507.25px;font-size:11.5px;color:#fff;left:421.15px;transform:translateX(-50%) scaleX(0.930);">R</div>
<div class="r" style="left:8.00px;top:530.10px;width:429.60px;height:54.70px;background:#efefef;"></div>
<div class="r" style="left:94.00px;top:530.10px;width:2.00px;height:54.70px;background:#fafafa;"></div>
<div class="r" style="left:189.60px;top:530.10px;width:2.50px;height:54.70px;background:#fafafa;"></div>
<div class="r" style="left:226.20px;top:530.10px;width:1.30px;height:54.70px;background:#f5f5f5;"></div>
<div class="r" style="left:261.45px;top:530.10px;width:1.30px;height:54.70px;background:#f5f5f5;"></div>
<div class="r" style="left:296.70px;top:530.10px;width:1.30px;height:54.70px;background:#f5f5f5;"></div>
<div class="r" style="left:331.95px;top:530.10px;width:1.30px;height:54.70px;background:#f5f5f5;"></div>
<div class="r" style="left:367.20px;top:530.10px;width:1.30px;height:54.70px;background:#f5f5f5;"></div>
<div class="r" style="left:402.45px;top:530.10px;width:1.30px;height:54.70px;background:#f5f5f5;"></div>
<div class="r" style="left:96.00px;top:547.00px;width:341.60px;height:1.20px;background:#f5f5f5;"></div>
<div class="r" style="left:96.00px;top:566.05px;width:341.60px;height:1.20px;background:#f5f5f5;"></div>
<div class="t ns" style="top:529.80px;font-size:10px;color:#464646;left:143.70px;transform:translateX(-50%) scaleX(1.000);">Фолд или лимпы</div>
<div class="r" style="left:261.90px;top:529.20px;width:35.70px;height:18.40px;background:#fff;"></div>
<div class="r" style="left:297.15px;top:529.20px;width:35.70px;height:18.40px;background:#fff;"></div>
<div class="r" style="left:332.40px;top:529.20px;width:35.70px;height:18.40px;background:#fff;"></div>
<div class="r" style="left:367.65px;top:529.20px;width:35.70px;height:18.40px;background:#fff;"></div>
<div class="r" style="left:402.90px;top:529.20px;width:35.70px;height:18.40px;background:#fff;"></div>
<div class="t ns" style="top:548.55px;font-size:10px;color:#464646;left:143.70px;transform:translateX(-50%) scaleX(0.950);">Рейз UG-HJ</div>
<div class="t ns" style="top:567.55px;font-size:10px;color:#464646;left:143.70px;transform:translateX(-50%) scaleX(0.950);">Рейз CO - SB</div>
<div class="r" style="left:332.40px;top:566.60px;width:35.70px;height:19.10px;background:#fff;"></div>
<div class="r" style="left:367.65px;top:566.60px;width:35.70px;height:19.10px;background:#fff;"></div>
<div class="r" style="left:402.90px;top:566.60px;width:35.70px;height:19.10px;background:#fff;"></div>
<div class="r" style="left:262.80px;top:530.10px;width:33.90px;height:16.60px;background:#c9060b;"></div>
<div class="t " style="top:529.30px;font-size:11.5px;color:#fff;left:280.15px;transform:translateX(-50%) scaleX(1.000);">R - L</div>
<div class="r" style="left:298.05px;top:530.10px;width:33.90px;height:16.60px;background:#c9060b;"></div>
<div class="t " style="top:529.30px;font-size:11.5px;color:#fff;left:315.40px;transform:translateX(-50%) scaleX(1.000);">R - L</div>
<div class="r" style="left:333.30px;top:530.10px;width:33.90px;height:16.60px;background:#c9060b;"></div>
<div class="t " style="top:529.30px;font-size:11.5px;color:#fff;left:350.65px;transform:translateX(-50%) scaleX(1.000);">R - L</div>
<div class="r" style="left:368.55px;top:530.10px;width:33.90px;height:16.60px;background:#c9060b;"></div>
<div class="t " style="top:529.30px;font-size:11.5px;color:#fff;left:385.90px;transform:translateX(-50%) scaleX(1.000);">R - L</div>
<div class="r" style="left:403.80px;top:530.10px;width:33.90px;height:16.60px;background:#c9060b;"></div>
<div class="t " style="top:529.30px;font-size:11.5px;color:#fff;left:421.15px;transform:translateX(-50%) scaleX(1.000);">R - L</div>
<div class="r" style="left:333.30px;top:567.50px;width:33.90px;height:17.30px;background:#1a9e80;"></div>
<div class="t " style="top:567.05px;font-size:11.5px;color:#fff;left:350.65px;transform:translateX(-50%) scaleX(0.930);">C</div>
<div class="r" style="left:368.55px;top:567.50px;width:33.90px;height:17.30px;background:#1a9e80;"></div>
<div class="t " style="top:567.05px;font-size:11.5px;color:#fff;left:385.90px;transform:translateX(-50%) scaleX(0.930);">C</div>
<div class="r" style="left:403.80px;top:567.50px;width:33.90px;height:17.30px;background:#1a9e80;"></div>
<div class="t " style="top:567.05px;font-size:11.5px;color:#fff;left:421.15px;transform:translateX(-50%) scaleX(0.930);">C</div>
<div class="r" style="left:8.00px;top:589.60px;width:429.60px;height:91.10px;background:#efefef;"></div>
<div class="r" style="left:94.00px;top:589.60px;width:2.00px;height:91.10px;background:#fafafa;"></div>
<div class="r" style="left:189.60px;top:589.60px;width:2.50px;height:91.10px;background:#fafafa;"></div>
<div class="r" style="left:226.20px;top:589.60px;width:1.30px;height:91.10px;background:#f5f5f5;"></div>
<div class="r" style="left:261.45px;top:589.60px;width:1.30px;height:91.10px;background:#f5f5f5;"></div>
<div class="r" style="left:296.70px;top:589.60px;width:1.30px;height:91.10px;background:#f5f5f5;"></div>
<div class="r" style="left:331.95px;top:589.60px;width:1.30px;height:91.10px;background:#f5f5f5;"></div>
<div class="r" style="left:367.20px;top:589.60px;width:1.30px;height:91.10px;background:#f5f5f5;"></div>
<div class="r" style="left:402.45px;top:589.60px;width:1.30px;height:91.10px;background:#f5f5f5;"></div>
<div class="r" style="left:96.00px;top:606.75px;width:341.60px;height:1.20px;background:#f5f5f5;"></div>
<div class="r" style="left:96.00px;top:625.10px;width:341.60px;height:1.20px;background:#f5f5f5;"></div>
<div class="r" style="left:96.00px;top:643.88px;width:341.60px;height:1.20px;background:#f5f5f5;"></div>
<div class="r" style="left:96.00px;top:662.15px;width:341.60px;height:1.20px;background:#f5f5f5;"></div>
<div class="r" style="left:8.00px;top:606.75px;width:86.00px;height:1.20px;background:#f5f5f5;"></div>
<div class="r" style="left:8.00px;top:625.10px;width:86.00px;height:1.20px;background:#f5f5f5;"></div>
<div class="r" style="left:8.00px;top:643.88px;width:86.00px;height:1.20px;background:#f5f5f5;"></div>
<div class="r" style="left:8.00px;top:662.15px;width:86.00px;height:1.20px;background:#f5f5f5;"></div>
<div class="r" style="left:36.80px;top:625.80px;width:1.20px;height:54.90px;background:#f5f5f5;"></div>
<div class="r" style="left:66.60px;top:625.80px;width:1.20px;height:54.90px;background:#f5f5f5;"></div>
<div class="t ns" style="top:589.50px;font-size:10px;color:#464646;left:143.70px;transform:translateX(-50%) scaleX(0.950);">Все фолд</div>
<div class="r" style="left:297.15px;top:588.70px;width:35.70px;height:18.80px;background:#fff;"></div>
<div class="r" style="left:332.40px;top:588.70px;width:35.70px;height:18.80px;background:#fff;"></div>
<div class="r" style="left:367.65px;top:588.70px;width:35.70px;height:18.80px;background:#fff;"></div>
<div class="r" style="left:402.90px;top:588.70px;width:35.70px;height:18.80px;background:#fff;"></div>
<div class="t ns" style="top:607.75px;font-size:10px;color:#464646;left:143.70px;transform:translateX(-50%) scaleX(0.950);">Были лимпы</div>
<div class="r" style="left:297.15px;top:607.20px;width:35.70px;height:18.30px;background:#fff;"></div>
<div class="r" style="left:332.40px;top:607.20px;width:35.70px;height:18.30px;background:#fff;"></div>
<div class="r" style="left:367.65px;top:607.20px;width:35.70px;height:18.30px;background:#fff;"></div>
<div class="t ns" style="top:626.67px;font-size:10px;color:#464646;left:143.70px;transform:translateX(-50%) scaleX(0.920);">Лимп с SB</div>
<div class="r" style="left:402.90px;top:625.90px;width:35.70px;height:18.75px;background:#fff;"></div>
<div class="t ns" style="top:645.00px;font-size:10px;color:#464646;left:143.70px;transform:translateX(-50%) scaleX(0.950);">Рейз UG-HJ</div>
<div class="t ns" style="top:663.50px;font-size:10px;color:#464646;left:143.70px;transform:translateX(-50%) scaleX(0.950);">Рейз CO-SB</div>
<div class="r" style="left:332.40px;top:662.60px;width:35.70px;height:19.00px;background:#fff;"></div>
<div class="r" style="left:367.65px;top:662.60px;width:35.70px;height:19.00px;background:#fff;"></div>
<div class="r" style="left:402.90px;top:662.60px;width:35.70px;height:19.00px;background:#fff;"></div>
<div class="r" style="left:298.05px;top:589.60px;width:33.90px;height:17.00px;background:#c9060b;"></div>
<div class="t " style="top:589.00px;font-size:11.5px;color:#fff;left:315.40px;transform:translateX(-50%) scaleX(0.930);">R</div>
<div class="r" style="left:333.30px;top:589.60px;width:33.90px;height:17.00px;background:#c9060b;"></div>
<div class="t " style="top:589.00px;font-size:11.5px;color:#fff;left:350.65px;transform:translateX(-50%) scaleX(0.930);">R</div>
<div class="r" style="left:368.55px;top:589.60px;width:33.90px;height:17.00px;background:#c9060b;"></div>
<div class="t " style="top:589.00px;font-size:11.5px;color:#fff;left:385.90px;transform:translateX(-50%) scaleX(0.930);">R</div>
<div class="r" style="left:403.80px;top:589.60px;width:33.90px;height:17.00px;background:#c9060b;"></div>
<div class="t " style="top:589.00px;font-size:11.5px;color:#fff;left:421.15px;transform:translateX(-50%) scaleX(0.930);">R</div>
<div class="r" style="left:298.05px;top:608.10px;width:33.90px;height:16.50px;background:#1a9e80;"></div>
<div class="t " style="top:607.25px;font-size:11.5px;color:#fff;left:315.40px;transform:translateX(-50%) scaleX(0.930);">C</div>
<div class="r" style="left:333.30px;top:608.10px;width:33.90px;height:16.50px;background:#1a9e80;"></div>
<div class="t " style="top:607.25px;font-size:11.5px;color:#fff;left:350.65px;transform:translateX(-50%) scaleX(0.930);">C</div>
<div class="r" style="left:368.55px;top:608.10px;width:33.90px;height:16.50px;background:#1a9e80;"></div>
<div class="t " style="top:607.25px;font-size:11.5px;color:#fff;left:385.90px;transform:translateX(-50%) scaleX(0.930);">C</div>
<div class="r" style="left:403.80px;top:626.80px;width:33.90px;height:16.95px;background:#c9060b;"></div>
<div class="t " style="top:626.17px;font-size:11.5px;color:#fff;left:421.15px;transform:translateX(-50%) scaleX(0.930);">R</div>
<div class="r" style="left:333.30px;top:663.50px;width:33.90px;height:17.20px;background:#1a9e80;"></div>
<div class="t " style="top:663.00px;font-size:11.5px;color:#fff;left:350.65px;transform:translateX(-50%) scaleX(0.930);">C</div>
<div class="r" style="left:368.55px;top:663.50px;width:33.90px;height:17.20px;background:#1a9e80;"></div>
<div class="t " style="top:663.00px;font-size:11.5px;color:#fff;left:385.90px;transform:translateX(-50%) scaleX(0.930);">C</div>
<div class="r" style="left:403.80px;top:663.50px;width:33.90px;height:17.20px;background:#1a9e80;"></div>
<div class="t " style="top:663.00px;font-size:11.5px;color:#fff;left:421.15px;transform:translateX(-50%) scaleX(0.930);">C</div>
<div class="r" style="left:8.00px;top:685.50px;width:429.60px;height:91.50px;background:#efefef;"></div>
<div class="r" style="left:94.00px;top:685.50px;width:2.00px;height:91.50px;background:#fafafa;"></div>
<div class="r" style="left:189.60px;top:685.50px;width:2.50px;height:91.50px;background:#fafafa;"></div>
<div class="r" style="left:226.20px;top:685.50px;width:1.30px;height:91.50px;background:#f5f5f5;"></div>
<div class="r" style="left:261.45px;top:685.50px;width:1.30px;height:91.50px;background:#f5f5f5;"></div>
<div class="r" style="left:296.70px;top:685.50px;width:1.30px;height:91.50px;background:#f5f5f5;"></div>
<div class="r" style="left:331.95px;top:685.50px;width:1.30px;height:91.50px;background:#f5f5f5;"></div>
<div class="r" style="left:367.20px;top:685.50px;width:1.30px;height:91.50px;background:#f5f5f5;"></div>
<div class="r" style="left:402.45px;top:685.50px;width:1.30px;height:91.50px;background:#f5f5f5;"></div>
<div class="r" style="left:96.00px;top:702.60px;width:341.60px;height:1.20px;background:#f5f5f5;"></div>
<div class="r" style="left:96.00px;top:720.85px;width:341.60px;height:1.20px;background:#f5f5f5;"></div>
<div class="r" style="left:96.00px;top:739.65px;width:341.60px;height:1.20px;background:#f5f5f5;"></div>
<div class="r" style="left:96.00px;top:758.15px;width:341.60px;height:1.20px;background:#f5f5f5;"></div>
<div class="r" style="left:8.00px;top:702.60px;width:86.00px;height:1.20px;background:#f5f5f5;"></div>
<div class="r" style="left:8.00px;top:720.85px;width:86.00px;height:1.20px;background:#f5f5f5;"></div>
<div class="r" style="left:8.00px;top:739.65px;width:86.00px;height:1.20px;background:#f5f5f5;"></div>
<div class="r" style="left:8.00px;top:758.15px;width:86.00px;height:1.20px;background:#f5f5f5;"></div>
<div class="r" style="left:36.80px;top:685.50px;width:1.20px;height:91.50px;background:#f5f5f5;"></div>
<div class="r" style="left:66.60px;top:685.50px;width:1.20px;height:91.50px;background:#f5f5f5;"></div>
<div class="t ns" style="top:685.50px;font-size:10px;color:#464646;left:143.70px;transform:translateX(-50%) scaleX(0.950);">Все фолд</div>
<div class="r" style="left:332.40px;top:684.60px;width:35.70px;height:19.00px;background:#fff;"></div>
<div class="r" style="left:367.65px;top:684.60px;width:35.70px;height:19.00px;background:#fff;"></div>
<div class="r" style="left:402.90px;top:684.60px;width:35.70px;height:19.00px;background:#fff;"></div>
<div class="t ns" style="top:703.55px;font-size:10px;color:#464646;left:143.70px;transform:translateX(-50%) scaleX(0.950);">Были лимпы</div>
<div class="r" style="left:332.40px;top:702.80px;width:35.70px;height:18.70px;background:#fff;"></div>
<div class="r" style="left:367.65px;top:702.80px;width:35.70px;height:18.70px;background:#fff;"></div>
<div class="t ns" style="top:722.30px;font-size:10px;color:#464646;left:143.70px;transform:translateX(-50%) scaleX(0.920);">Лимп с SB</div>
<div class="r" style="left:402.90px;top:721.40px;width:35.70px;height:19.00px;background:#fff;"></div>
<div class="t ns" style="top:740.90px;font-size:10px;color:#464646;left:143.70px;transform:translateX(-50%) scaleX(0.950);">Рейз UG-CO</div>
<div class="t ns" style="top:759.65px;font-size:10px;color:#464646;left:143.70px;transform:translateX(-50%) scaleX(0.950);">Рейз BU, SB</div>
<div class="r" style="left:367.65px;top:758.60px;width:35.70px;height:19.30px;background:#fff;"></div>
<div class="r" style="left:402.90px;top:758.60px;width:35.70px;height:19.30px;background:#fff;"></div>
<div class="r" style="left:333.30px;top:685.50px;width:33.90px;height:17.20px;background:#c9060b;"></div>
<div class="t " style="top:685.00px;font-size:11.5px;color:#fff;left:350.65px;transform:translateX(-50%) scaleX(0.930);">R</div>
<div class="r" style="left:368.55px;top:685.50px;width:33.90px;height:17.20px;background:#c9060b;"></div>
<div class="t " style="top:685.00px;font-size:11.5px;color:#fff;left:385.90px;transform:translateX(-50%) scaleX(0.930);">R</div>
<div class="r" style="left:403.80px;top:685.50px;width:33.90px;height:17.20px;background:#c9060b;"></div>
<div class="t " style="top:685.00px;font-size:11.5px;color:#fff;left:421.15px;transform:translateX(-50%) scaleX(0.930);">R</div>
<div class="r" style="left:333.30px;top:703.70px;width:33.90px;height:16.90px;background:#1a9e80;"></div>
<div class="t " style="top:703.05px;font-size:11.5px;color:#fff;left:350.65px;transform:translateX(-50%) scaleX(0.930);">C</div>
<div class="r" style="left:368.55px;top:703.70px;width:33.90px;height:16.90px;background:#1a9e80;"></div>
<div class="t " style="top:703.05px;font-size:11.5px;color:#fff;left:385.90px;transform:translateX(-50%) scaleX(0.930);">C</div>
<div class="r" style="left:403.80px;top:722.30px;width:33.90px;height:17.20px;background:#c9060b;"></div>
<div class="t " style="top:721.80px;font-size:11.5px;color:#fff;left:421.15px;transform:translateX(-50%) scaleX(0.930);">R</div>
<div class="r" style="left:368.55px;top:759.50px;width:33.90px;height:17.50px;background:#1a9e80;"></div>
<div class="t " style="top:759.15px;font-size:11.5px;color:#fff;left:385.90px;transform:translateX(-50%) scaleX(0.930);">C</div>
<div class="r" style="left:403.80px;top:759.50px;width:33.90px;height:17.50px;background:#1a9e80;"></div>
<div class="t " style="top:759.15px;font-size:11.5px;color:#fff;left:421.15px;transform:translateX(-50%) scaleX(0.930);">C</div>
<div class="t " style="top:109.30px;font-size:12.5px;color:#333;left:52.80px;transform:translateX(-50%) scaleX(0.910);">AA - QQ</div>
<div class="t " style="top:161.30px;font-size:12.5px;color:#333;left:52.20px;transform:translateX(-50%) scaleX(0.942);">AK</div>
<div class="t " style="top:198.00px;font-size:12.5px;color:#333;left:51.55px;transform:translateX(-50%) scaleX(0.683);">JJ</div>
<div class="t " style="top:240.00px;font-size:12.5px;color:#333;left:52.65px;transform:translateX(-50%) scaleX(0.955);">AQ</div>
<div class="t " style="top:266.50px;font-size:12.5px;color:#333;left:52.35px;transform:translateX(-50%) scaleX(0.951);">TT</div>
<div class="t " style="top:293.70px;font-size:12.5px;color:#333;left:51.95px;transform:translateX(-50%) scaleX(1.043);">99</div>
<div class="t " style="top:325.50px;font-size:12.5px;color:#333;left:52.15px;transform:translateX(-50%) scaleX(1.072);">88</div>
<div class="t " style="top:362.50px;font-size:12.5px;color:#333;left:52.35px;transform:translateX(-50%) scaleX(1.043);">77</div>
<div class="t " style="top:411.70px;font-size:12.5px;color:#333;left:52.40px;transform:translateX(-50%) scaleX(1.028);">66 - 22</div>
<div class="t " style="top:452.90px;font-size:12.5px;color:#333;left:52.65px;transform:translateX(-50%) scaleX(0.869);">AJ</div>
<div class="t " style="top:471.30px;font-size:12.5px;color:#333;left:52.05px;transform:translateX(-50%) scaleX(1.007);">ATs</div>
<div class="t " style="top:490.00px;font-size:12.5px;color:#333;left:52.15px;transform:translateX(-50%) scaleX(0.899);">KQs</div>
<div class="t " style="top:530.10px;font-size:12.5px;color:#333;left:51.65px;transform:translateX(-50%) scaleX(1.010);">AT</div>
<div class="t " style="top:548.80px;font-size:12.5px;color:#333;left:52.05px;transform:translateX(-50%) scaleX(0.954);">A9s</div>
<div class="t " style="top:567.50px;font-size:12.5px;color:#333;left:50.45px;transform:translateX(-50%) scaleX(0.878);">KJs, KQ</div>
<div class="t " style="top:588.90px;font-size:12.5px;color:#333;left:51.70px;transform:translateX(-50%) scaleX(0.950);">A9</div>
<div class="t " style="top:607.40px;font-size:12.5px;color:#333;left:52.50px;transform:translateX(-50%) scaleX(0.936);">A8s-A2s</div>
<div class="t " style="top:626.60px;font-size:12.5px;color:#333;left:23.20px;transform:translateX(-50%) scaleX(0.880);">KJ</div>
<div class="t " style="top:626.60px;font-size:12.5px;color:#333;left:52.40px;transform:translateX(-50%) scaleX(0.880);">KTs</div>
<div class="t " style="top:626.60px;font-size:12.5px;color:#333;left:81.60px;transform:translateX(-50%) scaleX(0.880);">KT</div>
<div class="t " style="top:645.30px;font-size:12.5px;color:#333;left:23.20px;transform:translateX(-50%) scaleX(0.880);">K9s</div>
<div class="t " style="top:645.30px;font-size:12.5px;color:#333;left:52.40px;transform:translateX(-50%) scaleX(0.880);">QJs</div>
<div class="t " style="top:645.30px;font-size:12.5px;color:#333;left:81.60px;transform:translateX(-50%) scaleX(0.880);">QTs</div>
<div class="t " style="top:663.30px;font-size:12.5px;color:#333;left:23.20px;transform:translateX(-50%) scaleX(0.880);">JTs</div>
<div class="t " style="top:663.30px;font-size:12.5px;color:#333;left:52.40px;transform:translateX(-50%) scaleX(0.880);">T9s</div>
<div class="t " style="top:663.30px;font-size:12.5px;color:#333;left:81.60px;transform:translateX(-50%) scaleX(0.880);">98s</div>
<div class="t " style="top:685.50px;font-size:12.5px;color:#333;left:23.20px;transform:translateX(-50%) scaleX(0.880);">A8</div>
<div class="t " style="top:685.50px;font-size:12.5px;color:#333;left:52.40px;transform:translateX(-50%) scaleX(0.880);">A7</div>
<div class="t " style="top:685.50px;font-size:12.5px;color:#333;left:81.60px;transform:translateX(-50%) scaleX(0.880);">K9</div>
<div class="t " style="top:704.10px;font-size:12.5px;color:#333;left:23.20px;transform:translateX(-50%) scaleX(0.880);">K8s</div>
<div class="t " style="top:704.10px;font-size:12.5px;color:#333;left:52.40px;transform:translateX(-50%) scaleX(0.880);">QT</div>
<div class="t " style="top:704.10px;font-size:12.5px;color:#333;left:81.60px;transform:translateX(-50%) scaleX(0.880);">Q9s</div>
<div class="t " style="top:722.70px;font-size:12.5px;color:#333;left:23.20px;transform:translateX(-50%) scaleX(0.880);">J9s</div>
<div class="t " style="top:722.70px;font-size:12.5px;color:#333;left:52.40px;transform:translateX(-50%) scaleX(0.880);">J8s</div>
<div class="t " style="top:722.70px;font-size:12.5px;color:#333;left:81.60px;transform:translateX(-50%) scaleX(0.880);">T8s</div>
<div class="t " style="top:740.90px;font-size:12.5px;color:#333;left:23.20px;transform:translateX(-50%) scaleX(0.880);">JT</div>
<div class="t " style="top:740.90px;font-size:12.5px;color:#333;left:52.40px;transform:translateX(-50%) scaleX(0.880);">T9</div>
<div class="t " style="top:740.90px;font-size:12.5px;color:#333;left:81.60px;transform:translateX(-50%) scaleX(0.880);">97s</div>
<div class="t " style="top:759.20px;font-size:12.5px;color:#333;left:23.20px;transform:translateX(-50%) scaleX(0.880);">87s</div>
<div class="t " style="top:759.20px;font-size:12.5px;color:#333;left:52.40px;transform:translateX(-50%) scaleX(0.880);">76s</div>
<div class="t " style="top:759.20px;font-size:12.5px;color:#333;left:81.60px;transform:translateX(-50%) scaleX(0.880);">65s</div>
<div class="r" style="left:450.00px;top:76.20px;width:224.00px;height:24.50px;background:#efefef;"></div>
<div class="t ns" style="top:80.25px;font-size:12.5px;color:#333;left:562.70px;transform:translateX(-50%) scaleX(0.893);">Против действий оппонентов</div>
<div class="r" style="left:450.00px;top:101.00px;width:224.00px;height:17.30px;background:#e9582b;"></div>
<div class="t ns" style="top:100.75px;font-size:12.5px;color:#fff;left:562.30px;transform:translateX(-50%) scaleX(0.924);">играем ре-рейз или All in</div>
<div class="r" style="left:450.00px;top:119.10px;width:224.00px;height:18.30px;background:#3386a0;"></div>
<div class="t ns" style="top:119.35px;font-size:12.5px;color:#fff;left:561.50px;transform:translateX(-50%) scaleX(0.913);">играем колл против ре-рейза</div>
<div class="r" style="left:450.00px;top:140.90px;width:224.00px;height:18.90px;background:#2e5c99;"></div>
<div class="t ns" style="top:141.45px;font-size:12.5px;color:#fff;left:561.20px;transform:translateX(-50%) scaleX(0.907);">с парами колл 15-20 против рейза</div>
<div class="r" style="left:450.00px;top:159.80px;width:224.00px;height:19.00px;background:#c9060b;"></div>
<div class="t ns" style="top:160.40px;font-size:12.5px;color:#fff;left:561.85px;transform:translateX(-50%) scaleX(0.916);">играем фолд против ре-рейза</div>
<div class="r" style="left:451.00px;top:216.00px;width:223.00px;height:95.60px;background:#efefef;"></div>
<div class="r" style="left:484.10px;top:216.00px;width:2.20px;height:95.60px;background:#f5f5f5;"></div>
<div class="r" style="left:451.00px;top:234.50px;width:223.00px;height:1.20px;background:#f5f5f5;"></div>
<div class="r" style="left:451.00px;top:255.90px;width:223.00px;height:1.20px;background:#f5f5f5;"></div>
<div class="r" style="left:451.00px;top:275.70px;width:223.00px;height:1.20px;background:#f5f5f5;"></div>
<div class="t " style="top:216.50px;font-size:12.5px;color:#3d3d3d;left:468.00px;transform:translateX(-50%) scaleX(0.900);">R</div>
<div class="t ns" style="top:217.50px;font-size:11.5px;color:#3d3d3d;left:579.65px;transform:translateX(-50%) scaleX(1.018);">Играем рейз</div>
<div class="t " style="top:239.30px;font-size:12.5px;color:#3d3d3d;left:468.00px;transform:translateX(-50%) scaleX(0.900);">C</div>
<div class="t ns" style="top:239.60px;font-size:11.5px;color:#3d3d3d;left:579.65px;transform:translateX(-50%) scaleX(1.007);">Играем колл</div>
<div class="t " style="top:257.60px;font-size:12.5px;color:#3d3d3d;left:468.00px;transform:translateX(-50%) scaleX(0.900);">RC</div>
<div class="t ns" style="top:257.50px;font-size:11.5px;color:#3d3d3d;left:580.40px;transform:translateX(-50%) scaleX(1.008);">Играем колл после ре-рейза</div>
<div class="t " style="top:285.50px;font-size:12.5px;color:#3d3d3d;left:468.20px;transform:translateX(-50%) scaleX(0.900);">R - L</div>
<div class="t ns" style="top:275.30px;font-size:11.5px;color:#3d3d3d;left:580.35px;transform:translateX(-50%) scaleX(0.991);">Играем колл если было</div>
<div class="t ns" style="top:293.20px;font-size:11.5px;color:#3d3d3d;left:579.75px;transform:translateX(-50%) scaleX(1.008);">3 и более лимперов</div>
<div class="r" style="left:450.00px;top:315.70px;width:224.00px;height:37.10px;background:#efefef;"></div>
<div class="r" style="left:450.00px;top:370.70px;width:224.00px;height:59.90px;background:#efefef;"></div>
<div class="r" style="left:450.00px;top:451.50px;width:224.00px;height:73.80px;background:#efefef;"></div>
<div class="t ns" style="top:316.40px;font-size:10.5px;color:#333;font-style:italic;left:561.65px;transform:translateX(-50%) scaleX(0.910);">Если вы видите пустую ячейку в чарте</div>
<div class="t ns" style="top:334.50px;font-size:10.5px;color:#333;font-style:italic;left:563.00px;transform:translateX(-50%) scaleX(0.938);">вам не стоит разыгрывать руки</div>
<div class="t ns" style="top:372.40px;font-size:10.5px;color:#333;font-style:italic;left:561.00px;transform:translateX(-50%) scaleX(0.943);">Не следует лимпить с карманными</div>
<div class="t ns" style="top:391.50px;font-size:10.5px;color:#333;font-style:italic;left:560.85px;transform:translateX(-50%) scaleX(0.951);">парами 66-22 если за вами агрессоры.</div>
<div class="t ns" style="top:410.20px;font-size:10.5px;color:#333;font-style:italic;left:561.20px;transform:translateX(-50%) scaleX(0.933);">У вас редко будут пот-оддсы на колл</div>
<div class="t ns" style="top:453.00px;font-size:10.5px;color:#333;font-style:italic;left:562.00px;transform:translateX(-50%) scaleX(0.939);">В чарте не указано в каких ситуациях</div>
<div class="t ns" style="top:471.50px;font-size:10.5px;color:#333;font-style:italic;left:562.45px;transform:translateX(-50%) scaleX(0.930);">следует коллировать рейзы или 3беты</div>
<div class="t ns" style="top:491.20px;font-size:10.5px;color:#333;font-style:italic;left:562.80px;transform:translateX(-50%) scaleX(0.930);">с различными спекулятивными руками.</div>
<div class="t ns" style="top:509.40px;font-size:10.5px;color:#333;font-style:italic;left:562.00px;transform:translateX(-50%) scaleX(0.934);">Используйте пот-оддсы на префлопе:</div>
<div class="r" style="left:451.00px;top:530.30px;width:137.00px;height:16.70px;background:#3b3b3b;"></div>
<div class="r" style="left:590.60px;top:530.30px;width:82.40px;height:16.70px;background:#3b3b3b;"></div>
<div class="t ns" style="top:529.40px;font-size:11.5px;color:#fff;left:520.65px;transform:translateX(-50%) scaleX(0.878);">CARDS</div>
<div class="t ns" style="top:529.30px;font-size:12px;color:#fff;left:632.65px;transform:translateX(-50%) scaleX(0.923);">Odds</div>
<div class="r" style="left:451.00px;top:548.00px;width:137.00px;height:19.00px;background:#d9d9d9;"></div>
<div class="r" style="left:590.60px;top:548.00px;width:82.40px;height:19.00px;background:#d9d9d9;"></div>
<div class="t ns" style="top:548.20px;font-size:12px;color:#3a3a3a;left:458.00px;transform-origin:0 50%;transform:scaleX(0.950);">Suited Connectors</div>
<div class="t ns" style="top:548.20px;font-size:12px;color:#3a3a3a;left:632.30px;transform:translateX(-50%) scaleX(0.950);">3 : 1</div>
<div class="r" style="left:451.00px;top:568.00px;width:137.00px;height:17.80px;background:#d9d9d9;"></div>
<div class="r" style="left:590.60px;top:568.00px;width:82.40px;height:17.80px;background:#d9d9d9;"></div>
<div class="t ns" style="top:567.60px;font-size:12px;color:#3a3a3a;left:458.00px;transform-origin:0 50%;transform:scaleX(0.950);">Suited 1-Gapper</div>
<div class="t ns" style="top:567.60px;font-size:12px;color:#3a3a3a;left:632.30px;transform:translateX(-50%) scaleX(0.950);">3.5 : 1</div>
<div class="r" style="left:451.00px;top:587.00px;width:137.00px;height:20.00px;background:#d9d9d9;"></div>
<div class="r" style="left:590.60px;top:587.00px;width:82.40px;height:20.00px;background:#d9d9d9;"></div>
<div class="t ns" style="top:588.40px;font-size:12px;color:#3a3a3a;left:458.00px;transform-origin:0 50%;transform:scaleX(0.950);">Suited 2-Gapper</div>
<div class="t ns" style="top:588.40px;font-size:12px;color:#3a3a3a;left:632.30px;transform:translateX(-50%) scaleX(0.950);">4 : 1</div>
<div class="r" style="left:451.00px;top:608.40px;width:137.00px;height:17.70px;background:#d9d9d9;"></div>
<div class="r" style="left:590.60px;top:608.40px;width:82.40px;height:17.70px;background:#d9d9d9;"></div>
<div class="t ns" style="top:607.95px;font-size:12px;color:#3a3a3a;left:458.00px;transform-origin:0 50%;transform:scaleX(0.950);">Suited 3-Gapper</div>
<div class="t ns" style="top:607.95px;font-size:12px;color:#3a3a3a;left:632.30px;transform:translateX(-50%) scaleX(0.950);">5 : 1</div>
<div class="r" style="left:451.00px;top:627.00px;width:137.00px;height:17.40px;background:#d9d9d9;"></div>
<div class="r" style="left:590.60px;top:627.00px;width:82.40px;height:17.40px;background:#d9d9d9;"></div>
<div class="t ns" style="top:626.40px;font-size:12px;color:#3a3a3a;left:458.00px;transform-origin:0 50%;transform:scaleX(0.950);">Off Connectors</div>
<div class="t ns" style="top:626.40px;font-size:12px;color:#3a3a3a;left:632.30px;transform:translateX(-50%) scaleX(0.950);">5.5 : 1</div>
<div class="r" style="left:451.00px;top:645.40px;width:137.00px;height:17.20px;background:#d9d9d9;"></div>
<div class="r" style="left:590.60px;top:645.40px;width:82.40px;height:17.20px;background:#d9d9d9;"></div>
<div class="t ns" style="top:644.70px;font-size:12px;color:#3a3a3a;left:458.00px;transform-origin:0 50%;transform:scaleX(0.950);">Off 1-Gapper</div>
<div class="t ns" style="top:644.70px;font-size:12px;color:#3a3a3a;left:632.30px;transform:translateX(-50%) scaleX(0.950);">7.5 : 1</div>
<div class="r" style="left:451.00px;top:663.60px;width:137.00px;height:17.90px;background:#d9d9d9;"></div>
<div class="r" style="left:590.60px;top:663.60px;width:82.40px;height:17.90px;background:#d9d9d9;"></div>
<div class="t ns" style="top:663.25px;font-size:12px;color:#3a3a3a;left:458.00px;transform-origin:0 50%;transform:scaleX(0.950);">Off 2-Gapper</div>
<div class="t ns" style="top:663.25px;font-size:12px;color:#3a3a3a;left:632.30px;transform:translateX(-50%) scaleX(0.950);">11.5 : 1</div>
<div class="r" style="left:451.00px;top:682.50px;width:137.00px;height:20.40px;background:#d9d9d9;"></div>
<div class="r" style="left:590.60px;top:682.50px;width:82.40px;height:20.40px;background:#d9d9d9;"></div>
<div class="t ns" style="top:684.10px;font-size:12px;color:#3a3a3a;left:458.00px;transform-origin:0 50%;transform:scaleX(0.950);">Off 3-Gapper</div>
<div class="t ns" style="top:684.10px;font-size:12px;color:#3a3a3a;left:632.30px;transform:translateX(-50%) scaleX(0.950);">21.5 :1</div>
<div class="r" style="left:451.00px;top:703.90px;width:137.00px;height:17.50px;background:#d9d9d9;"></div>
<div class="r" style="left:590.60px;top:703.90px;width:82.40px;height:17.50px;background:#d9d9d9;"></div>
<div class="t ns" style="top:703.35px;font-size:12px;color:#3a3a3a;left:458.00px;transform-origin:0 50%;transform:scaleX(0.950);">Any 2 Suited</div>
<div class="t ns" style="top:703.35px;font-size:12px;color:#3a3a3a;left:632.30px;transform:translateX(-50%) scaleX(0.950);">5.5 : 1</div>
<div class="r" style="left:451.00px;top:722.40px;width:137.00px;height:17.60px;background:#d9d9d9;"></div>
<div class="r" style="left:590.60px;top:722.40px;width:82.40px;height:17.60px;background:#d9d9d9;"></div>
<div class="t ns" style="top:721.90px;font-size:12px;color:#3a3a3a;left:458.00px;transform-origin:0 50%;transform:scaleX(0.950);">Axo</div>
<div class="t ns" style="top:721.90px;font-size:12px;color:#3a3a3a;left:632.30px;transform:translateX(-50%) scaleX(0.950);">20.5 : 1</div>
<div class="r" style="left:451.00px;top:741.00px;width:137.00px;height:17.50px;background:#d9d9d9;"></div>
<div class="r" style="left:590.60px;top:741.00px;width:82.40px;height:17.50px;background:#d9d9d9;"></div>
<div class="t ns" style="top:740.45px;font-size:12px;color:#3a3a3a;left:458.00px;transform-origin:0 50%;transform:scaleX(0.950);">Any 2 Off</div>
<div class="t ns" style="top:740.45px;font-size:12px;color:#3a3a3a;left:632.30px;transform:translateX(-50%) scaleX(0.950);">27.5 : 1</div>
<div class="r" style="left:451.00px;top:759.50px;width:137.00px;height:16.60px;background:#d9d9d9;"></div>
<div class="r" style="left:590.60px;top:759.50px;width:82.40px;height:16.60px;background:#d9d9d9;"></div>
<div class="t ns" style="top:758.50px;font-size:12px;color:#3a3a3a;left:458.00px;transform-origin:0 50%;transform:scaleX(0.950);">Pocket Pair</div>
<div class="t ns" style="top:758.50px;font-size:12px;color:#3a3a3a;left:632.30px;transform:translateX(-50%) scaleX(0.950);">7.5 : 1</div>
</body></html>
